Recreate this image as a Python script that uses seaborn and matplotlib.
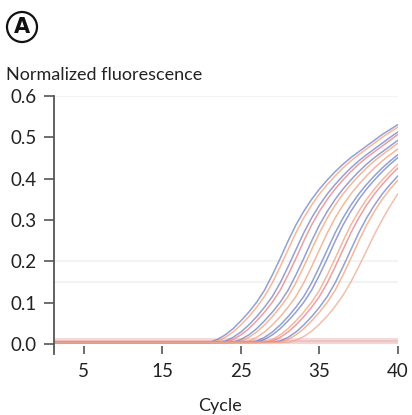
import matplotlib
matplotlib.use("Agg")
import matplotlib.pyplot as plt
from matplotlib.patches import Ellipse
import seaborn as sns
import pandas as pd

# ---- data ----
cycles = list(range(1, 46))
base = [0.004] * 19  # cycles 1-19, flat baseline

well_01 = base + [0.004, 0.004, 0.011, 0.022, 0.037, 0.056, 0.077, 0.101, 0.130, 0.167, 0.207, 0.249, 0.288, 0.321, 0.350, 0.375, 0.397, 0.417, 0.435, 0.451, 0.465, 0.479, 0.493, 0.507, 0.519, 0.531]
well_02 = base + [0.004, 0.004, 0.007, 0.016, 0.029, 0.046, 0.066, 0.089, 0.115, 0.148, 0.187, 0.228, 0.269, 0.305, 0.336, 0.363, 0.386, 0.407, 0.426, 0.443, 0.458, 0.472, 0.486, 0.500, 0.513, 0.525]
well_03 = base + [0.004, 0.004, 0.004, 0.007, 0.016, 0.029, 0.046, 0.066, 0.089, 0.115, 0.148, 0.187, 0.228, 0.269, 0.305, 0.336, 0.363, 0.386, 0.407, 0.426, 0.443, 0.458, 0.472, 0.486, 0.500, 0.513]
well_04 = base + [0.004, 0.004, 0.004, 0.004, 0.011, 0.022, 0.037, 0.056, 0.077, 0.101, 0.130, 0.167, 0.207, 0.249, 0.288, 0.321, 0.350, 0.375, 0.397, 0.417, 0.435, 0.451, 0.465, 0.479, 0.493, 0.507]
well_05 = base + [0.004, 0.004, 0.004, 0.004, 0.004, 0.011, 0.022, 0.037, 0.056, 0.077, 0.101, 0.130, 0.167, 0.207, 0.249, 0.288, 0.321, 0.350, 0.375, 0.397, 0.417, 0.435, 0.451, 0.465, 0.479, 0.493]
well_06 = base + [0.004, 0.004, 0.004, 0.004, 0.004, 0.007, 0.016, 0.029, 0.046, 0.066, 0.089, 0.115, 0.148, 0.187, 0.228, 0.269, 0.305, 0.336, 0.363, 0.386, 0.407, 0.426, 0.443, 0.458, 0.472, 0.486]
well_07 = base + [0.004, 0.004, 0.004, 0.004, 0.004, 0.004, 0.007, 0.016, 0.029, 0.046, 0.066, 0.089, 0.115, 0.148, 0.187, 0.228, 0.269, 0.305, 0.336, 0.363, 0.386, 0.407, 0.426, 0.443, 0.458, 0.472]
well_08 = base + [0.004, 0.004, 0.004, 0.004, 0.004, 0.004, 0.004, 0.007, 0.016, 0.029, 0.046, 0.066, 0.089, 0.115, 0.148, 0.187, 0.228, 0.269, 0.305, 0.336, 0.363, 0.386, 0.407, 0.426, 0.443, 0.458]
well_09 = base + [0.004, 0.004, 0.004, 0.004, 0.004, 0.004, 0.004, 0.004, 0.011, 0.022, 0.037, 0.056, 0.077, 0.101, 0.130, 0.167, 0.207, 0.249, 0.288, 0.321, 0.350, 0.375, 0.397, 0.417, 0.435, 0.451]
well_10 = base + [0.004, 0.004, 0.004, 0.004, 0.004, 0.004, 0.004, 0.004, 0.004, 0.011, 0.022, 0.037, 0.056, 0.077, 0.101, 0.130, 0.167, 0.207, 0.249, 0.288, 0.321, 0.350, 0.375, 0.397, 0.417, 0.435]
well_11 = base + [0.004, 0.004, 0.004, 0.004, 0.004, 0.004, 0.004, 0.004, 0.004, 0.007, 0.016, 0.029, 0.046, 0.066, 0.089, 0.115, 0.148, 0.187, 0.228, 0.269, 0.305, 0.336, 0.363, 0.386, 0.407, 0.426]
well_12 = base + [0.004, 0.004, 0.004, 0.004, 0.004, 0.004, 0.004, 0.004, 0.004, 0.004, 0.007, 0.016, 0.029, 0.046, 0.066, 0.089, 0.115, 0.148, 0.187, 0.228, 0.269, 0.305, 0.336, 0.363, 0.386, 0.407]
well_13 = base + [0.004, 0.004, 0.004, 0.004, 0.004, 0.004, 0.004, 0.004, 0.004, 0.004, 0.004, 0.011, 0.022, 0.037, 0.056, 0.077, 0.101, 0.130, 0.167, 0.207, 0.249, 0.288, 0.321, 0.350, 0.375, 0.397]
well_14 = base + [0.004, 0.004, 0.004, 0.004, 0.004, 0.004, 0.004, 0.004, 0.004, 0.004, 0.004, 0.004, 0.009, 0.018, 0.031, 0.048, 0.068, 0.091, 0.118, 0.150, 0.187, 0.226, 0.265, 0.301, 0.334, 0.364]
ntc_01 = [0.006] * 45
ntc_02 = [0.009] * 45

wells = ["A1", "A2", "B1", "B2", "C1", "C2", "D1", "D2", "E1", "E2", "F1", "F2", "G1", "G2", "NTC1", "NTC2"]
well_values = [well_01, well_02, well_03, well_04, well_05, well_06, well_07,
               well_08, well_09, well_10, well_11, well_12, well_13, well_14,
               ntc_01, ntc_02]
well_colors = ["#6f80c4", "#f2a07e", "#6f80c4", "#e87e86", "#6f80c4", "#f2a07e",
               "#f2a07e", "#6f80c4", "#6f80c4", "#f2a07e", "#e87e86", "#6f80c4",
               "#f2a07e", "#f0a890", "#e8a0a8", "#e8b0b0"]

xtick_pos = [5, 15, 25, 35, 45]
xtick_labels = ["5", "15", "25", "35", "40"]
ytick_vals = [0.0, 0.1, 0.2, 0.3, 0.4, 0.5, 0.6]
ytick_labels = ["0.0", "0.1", "0.2", "0.3", "0.4", "0.5", "0.6"]

rows = []
for w, vals in zip(wells, well_values):
    for c, v in zip(cycles, vals):
        rows.append({"Cycle": c, "Fluor": v, "Well": w})
df = pd.DataFrame(rows)

# ---- figure ----
sns.set_style("white")
plt.rcParams["font.family"] = ["Lato", "DejaVu Sans"]

W, H = 412, 415
fig = plt.figure(figsize=(W / 100, H / 100), dpi=100)
ax = fig.add_axes([54 / W, 1 - 354 / H, (398 - 54) / W, (354 - 96) / H])

for yv in [0.6, 0.2, 0.15]:
    ax.axhline(yv, color="#f3f3f3", lw=1.5, zorder=0)

curve_df = df[~df["Well"].str.startswith("NTC")]
ntc_df = df[df["Well"].str.startswith("NTC")]
pal = dict(zip(wells, well_colors))

sns.lineplot(data=ntc_df, x="Cycle", y="Fluor", hue="Well", palette=pal,
             legend=False, lw=3.0, alpha=0.45, ax=ax, estimator=None)
sns.lineplot(data=curve_df, x="Cycle", y="Fluor", hue="Well", palette=pal,
             legend=False, lw=1.1, alpha=0.75, ax=ax, estimator=None)

ax.set_xlim(1.2, 45)
ax.set_ylim(-0.0242, 0.6)
ax.set_xticks(xtick_pos)
ax.set_xticklabels(xtick_labels)
ax.set_yticks(ytick_vals)
ax.set_yticklabels(ytick_labels)
ax.set_xlabel("")
ax.set_ylabel("")

for s in ["top", "right", "bottom"]:
    ax.spines[s].set_visible(False)
ax.spines["left"].set_color("#555555")
ax.spines["left"].set_linewidth(1.3)

ax.tick_params(axis="y", direction="out", length=7.5, width=1.2, color="#555555",
               labelsize=13.5, pad=5, labelcolor="#222222", left=True)
ax.tick_params(axis="x", direction="in", length=5.5, width=1.2, color="#555555",
               labelsize=13.5, pad=6.5, labelcolor="#222222", bottom=True)

fig.text(6 / W, 1 - 75 / H, "Normalized fluorescence", fontsize=13,
         color="#222222", ha="left", va="center")
fig.text(220 / W, 1 - 411 / H, "Cycle", fontsize=13, color="#222222",
         ha="center", va="baseline")

fig.add_artist(Ellipse((22 / W, 1 - 27 / H), 30 / W, 30 / H,
                       transform=fig.transFigure, fill=False,
                       edgecolor="#111111", lw=1.6))
fig.text(22 / W, 1 - 27 / H, "A", fontsize=15, fontweight="bold",
         family=["DejaVu Sans"], color="#111111", ha="center", va="center")

fig.savefig("out.png", dpi=100)
